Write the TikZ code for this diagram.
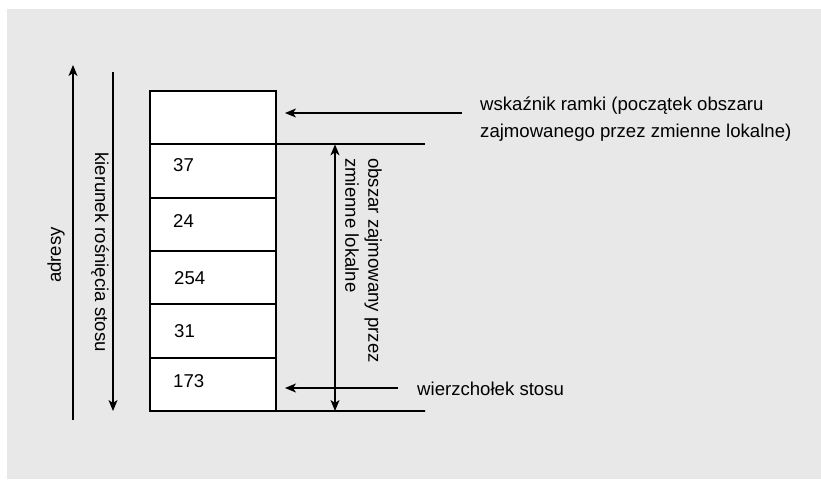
\documentclass[tikz,border=0pt]{standalone}
\usepackage{fontspec}
\setmainfont{Liberation Sans}
\usetikzlibrary{arrows.meta}
\definecolor{panel}{RGB}{232,232,232}
\begin{document}
\begin{tikzpicture}[x=1pt,y=-1pt,
  tip/.tip={Stealth[length=11pt,width=9pt,inset=3pt]},
  line/.style={line width=1.7pt},
  arr/.style={line width=1.6pt,-tip},
  darr/.style={line width=1.6pt,tip-tip},
  cell/.style={draw,line width=1.7pt,fill=white,minimum width=126pt,minimum height=53.3pt,inner sep=0pt,outer sep=0pt,anchor=north west},
  num/.style={font=\fontsize{18.6}{22}\selectfont,anchor=base west,inner sep=0pt},
  lbl/.style={font=\fontsize{18.6}{23}\selectfont,inner sep=0pt}]
\useasboundingbox (0,0) rectangle (821,479);
\fill[panel] (7,9) rectangle (821,479);

% stack cells
\node[cell] (c0) at (150,91) {};
\node[cell] (c1) at (150,144.3) {};
\node[cell] (c2) at (150,197.7) {};
\node[cell] (c3) at (150,251) {};
\node[cell] (c4) at (150,304.3) {};
\node[cell] (c5) at (150,357.7) {};

\node[num] (n1) at (173,171) {37};
\node[num] (n2) at (173,227) {24};
\node[num] (n3) at (174,284) {254};
\node[num] (n4) at (174,337) {31};
\node[num] (n5) at (173,387) {173};

% extension lines of the local-variable area
\coordinate (topR) at (425,144.3);
\coordinate (botR) at (425,411);
\draw[line] (c1.north east) -- (topR);
\draw[line] (c5.south east) -- (botR);

% size of the local area
\coordinate (mTop) at (335,144.3);
\coordinate (mBot) at (335,411);
\draw[darr] (mTop) -- (mBot);
\node[lbl,rotate=-90,anchor=north west,align=left] (area) at (382,158)
  {obszar zajmowany przez\\zmienne lokalne};

% pointers
\coordinate (fpS) at (462,113);
\coordinate (fpE) at (285,113);
\draw[arr] (fpS) -- (fpE);
\node[lbl,anchor=base west] (fp1) at (480,110) {wskaźnik ramki (początek obszaru};
\node[lbl,anchor=base west] (fp2) at (480,137) {zajmowanego przez zmienne lokalne)};

\coordinate (spS) at (398,388);
\coordinate (spE) at (285,388);
\draw[arr] (spS) -- (spE);
\node[lbl,anchor=base west] (sp) at (417,395) {wierzchołek stosu};

% address and growth direction
\coordinate (adB) at (73,420);
\coordinate (adT) at (73,65);
\draw[arr] (adB) -- (adT);
\node[lbl,rotate=90] (ad) at (56,255) {adresy};

\coordinate (grT) at (113,72);
\coordinate (grB) at (113,411);
\draw[arr] (grT) -- (grB);
\node[lbl,rotate=-90] (gr) at (100,252) {kierunek rośnięcia stosu};
\end{tikzpicture}
\end{document}
